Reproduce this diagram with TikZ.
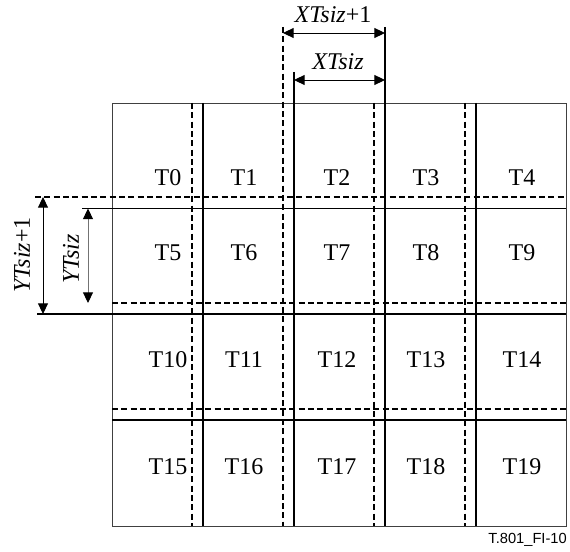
\documentclass[tikz,border=0pt]{standalone}
\usepackage{fontspec}
\setmainfont{Liberation Serif}
\newfontfamily\labelsans{Liberation Sans}
\usetikzlibrary{arrows.meta}
\begin{document}
\begin{tikzpicture}[x=0.75pt,y=-0.75pt,
  solidline/.style={line width=1.3pt},
  dashline/.style={line width=1.2pt, dash pattern=on 4.5pt off 2.5pt},
  outer/.style={line width=0.6pt, draw=black!75},
  dimarrow/.style={line width=0.7pt, {Triangle[length=8pt,width=7.5pt,color=black]}-{Triangle[length=8pt,width=7.5pt,color=black]}},
  tilelabel/.style={font=\fontsize{18}{20}\selectfont, inner sep=0pt},
  dimlabel/.style={font=\fontsize{18}{20}\selectfont, inner sep=0pt}]
\useasboundingbox (0,0) rectangle (570,552);
% outer frame
\draw[outer] (112,103) rectangle (566,526);
% dashed verticals
\draw[dashline] (192,103) -- (192,526);
\draw[dashline] (283,27) -- (283,526);
\draw[dashline] (374,103) -- (374,526);
\draw[dashline] (465,103) -- (465,526);
% solid verticals
\draw[solidline] (203,103) -- (203,526);
\draw[solidline] (294,72) -- (294,526);
\draw[solidline] (385,27) -- (385,526);
\draw[solidline] (476,103) -- (476,526);
% dashed horizontals
\draw[dashline] (35,197) -- (566,197);
\draw[dashline] (112,303) -- (566,303);
\draw[dashline] (112,409) -- (566,409);
% solid horizontals
\draw[solidline] (82,208.5) -- (566,208.5);
\draw[solidline] (37,314) -- (566,314);
\draw[solidline] (112,420) -- (566,420);
% dimension arrows
\coordinate (xa1) at (283,33);
\coordinate (xb1) at (385,33);
\coordinate (xa) at (294,80);
\coordinate (xb) at (385,80);
\coordinate (ya1) at (43,197);
\coordinate (yb1) at (43,314);
\coordinate (ya) at (88,208.5);
\coordinate (yb) at (88,303);
\draw[dimarrow] (xa1) -- (xb1);
\draw[dimarrow] (xa) -- (xb);
\draw[dimarrow] (ya1) -- (yb1);
\draw[dimarrow, draw=black!55] (ya) -- (yb);
\node[dimlabel] (lxt1) at (333,15) {\textit{XTsiz}+1};
\node[dimlabel] (lxt) at (338,62) {\textit{XTsiz}};
\node[dimlabel, rotate=90] (lyt1) at (22,255) {\textit{YTsiz}+1};
\node[dimlabel, rotate=90] (lyt) at (71,259) {\textit{YTsiz}};
% tile labels
\foreach \r/\yy in {0/178,1/253,2/360,3/467}{
  \foreach \c/\xx in {0/168,1/244,2/337,3/426,4/522}{
    \pgfmathtruncatemacro{\n}{5*\r+\c}
    \node[tilelabel] (t\n) at (\xx,\yy) {T\n};
  }
}
\node[font=\labelsans\fontsize{11}{13}\selectfont, anchor=east, inner sep=0pt] (fig) at (567,540) {T.801\_FI-10};
\end{tikzpicture}
\end{document}
